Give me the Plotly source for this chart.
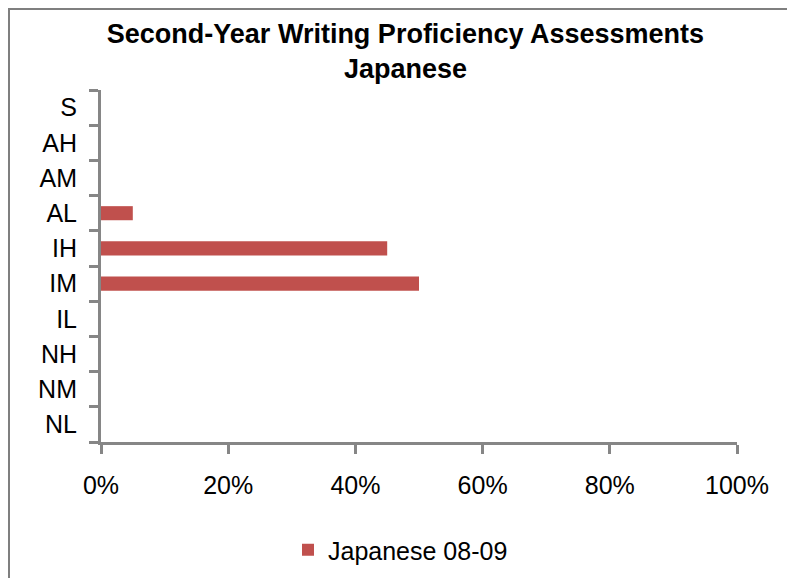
import plotly.graph_objects as go

categories = ["NL", "NM", "NH", "IL", "IM", "IH", "AL", "AM", "AH", "S"]
values = [0, 0, 0, 0, 0.50, 0.45, 0.05, 0, 0, 0]
series_name = "Japanese 08-09"
x_ticks = [0, 0.2, 0.4, 0.6, 0.8, 1.0]

# page body has an 8px margin, so the figure is drawn 8px in from the window edge
W, H = 787, 570
L, R, T, B = 93, 58, 82, 136
pw, ph = W - L - R, H - T - B

def px(x):
    return (x - L) / pw

def py(y):
    return (H - B - y) / ph

fig = go.Figure()
fig.add_trace(go.Bar(
    y=categories, x=values, orientation="h", name=series_name,
    marker=dict(color="#C0504D", line=dict(width=0)), width=0.4,
    showlegend=True,
))

axis_color = "#868686"
fig.update_layout(
    width=W, height=H,
    margin=dict(l=L, r=R, t=T, b=B, autoexpand=False),
    paper_bgcolor="white", plot_bgcolor="white",
    font=dict(family="Liberation Sans, Arial, sans-serif", color="black"),
    title=dict(
        text="<b>Second-Year Writing Proficiency Assessments<br>Japanese</b>",
        x=0.505, xanchor="center", xref="container",
        y=1 - 35 / H, yanchor="top", yref="container",
        font=dict(size=27, color="black"),
    ),
    xaxis=dict(
        range=[0, 1], tickvals=x_ticks, tickformat=".0%",
        showgrid=False, zeroline=False,
        showline=True, linecolor=axis_color, linewidth=3,
        ticks="outside", ticklen=9, tickwidth=3, tickcolor=axis_color,
        tickfont=dict(size=25), ticklabelstandoff=10,
        fixedrange=True,
    ),
    yaxis=dict(
        type="category", categoryorder="array", categoryarray=categories,
        range=[-0.5, 9.5], tickson="boundaries",
        showgrid=False, zeroline=False,
        showline=True, linecolor=axis_color, linewidth=3,
        ticks="outside", ticklen=9, tickwidth=3, tickcolor=axis_color,
        tickfont=dict(size=25), ticklabelstandoff=16,
        fixedrange=True,
    ),
    legend=dict(
        orientation="h", x=px(280), xanchor="left",
        y=py(542), yanchor="middle",
        font=dict(size=25), bgcolor="rgba(0,0,0,0)",
    ),
    shapes=[dict(
        type="rect", xref="paper", yref="paper",
        x0=px(1), x1=px(W + 20), y0=py(H + 20), y1=py(1),
        line=dict(color="#7F7F7F", width=2), fillcolor="rgba(0,0,0,0)",
        layer="below",
    )],
)

fig.write_html("out.html")
